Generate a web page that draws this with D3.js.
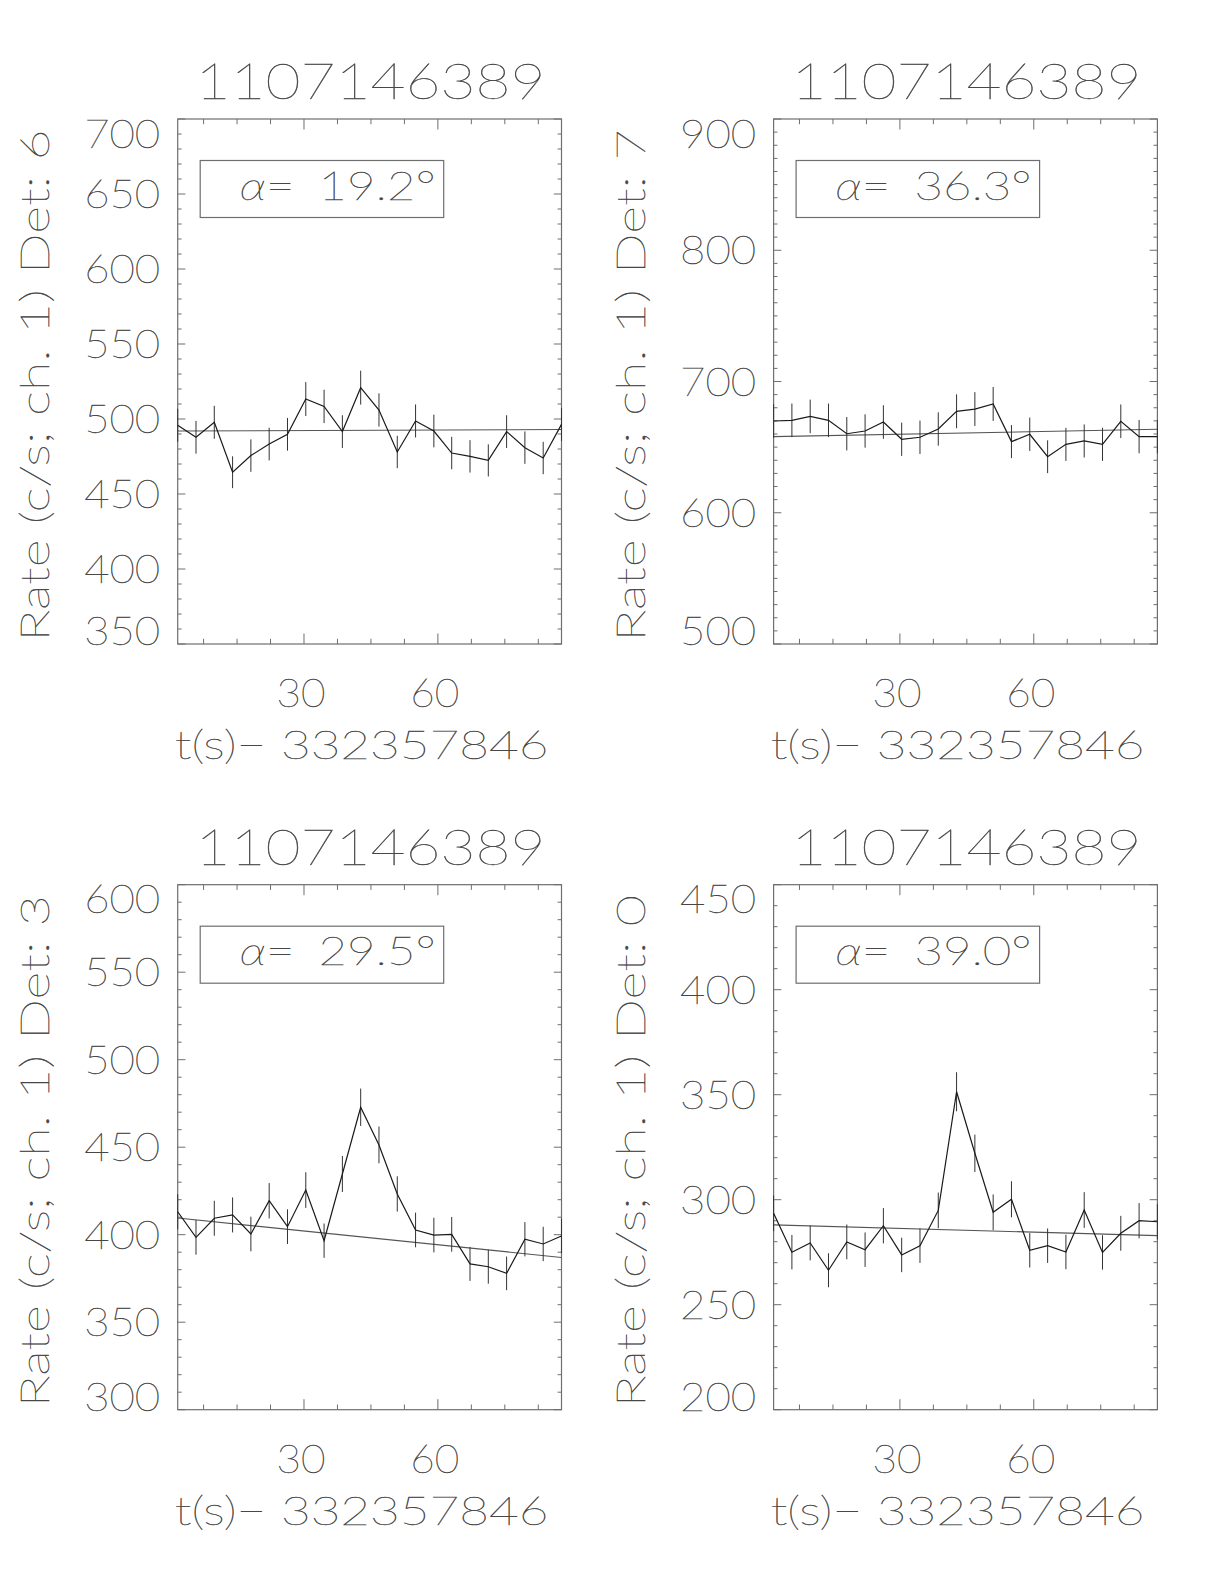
<!DOCTYPE html>
<html>
<head>
<meta charset="utf-8">
<script src="https://cdn.jsdelivr.net/npm/d3@7"></script>
<style>
  html, body { margin: 0; padding: 0; background: #fff; }
  svg text { font-family: Lato, 'Open Sans', sans-serif; font-weight: 200; fill: #474747; stroke: #474747; stroke-width: 0.4; }
</style>
</head>
<body>
<svg id="chart" width="1224" height="1584"></svg>
<script>
// ---------------- data ----------------
const burstId = "1107146389";
const xTitle = "t(s)\u2212 332357846";
const times = [1.7, 5.8, 9.9, 14.0, 18.1, 22.2, 26.3, 30.4, 34.5, 38.6, 42.7,
               46.8, 50.9, 55.0, 59.1, 63.1, 67.2, 71.3, 75.4, 79.5, 83.6, 87.7];
const xTickLabels = [30, 60];

const detectors = ["6", "7", "3", "0"];
const alphas = ["19.2", "36.3", "29.5", "39.0"];
const yDomains = [[350, 700], [500, 900], [300, 600], [200, 450]];
const yMajorSteps = [50, 100, 50, 50];

const rates6 = [495.8, 487.8, 497.8, 464.5, 475.6, 483.3, 489.8, 513.3, 508.4, 491.6, 520.9,
                506.0, 478.0, 498.7, 492.0, 477.3, 475.1, 472.4, 491.6, 480.9, 474.0, 496.4];
const errs6  = [11.0, 10.9, 11.0, 10.6, 10.8, 10.9, 10.9, 11.3, 11.1, 10.9, 11.3,
                11.1, 10.8, 11.0, 10.9, 10.8, 10.8, 10.7, 10.9, 10.8, 10.8, 11.0];
const fit6   = [492.0, 493.0];

const rates7 = [669.9, 670.4, 673.4, 670.4, 660.2, 662.3, 669.1, 656.0, 657.5, 663.8, 677.3,
                679.0, 682.9, 654.2, 659.8, 642.7, 652.1, 654.7, 652.1, 669.7, 658.0, 658.0];
const errs7  = [12.8, 12.8, 12.8, 12.8, 12.7, 12.7, 12.8, 12.7, 12.7, 12.7, 12.9,
                12.9, 12.9, 12.6, 12.7, 12.5, 12.6, 12.6, 12.6, 12.8, 12.7, 12.7];
const fit7   = [658.0, 663.6];

const rates3 = [413.1, 398.5, 409.4, 411.3, 400.4, 419.4, 404.6, 425.5, 396.6, 434.7, 472.8,
                451.3, 423.3, 402.7, 399.8, 400.2, 383.3, 381.7, 377.9, 397.4, 394.7, 399.3];
const errs3  = [10.0, 9.9, 10.0, 10.0, 9.9, 10.1, 9.9, 10.2, 9.8, 10.3, 10.7,
                10.5, 10.1, 9.9, 9.9, 9.9, 9.7, 9.7, 9.6, 9.8, 9.8, 9.9];
const fit3   = [409.5, 387.0];

const rates0 = [293.5, 275.0, 279.4, 266.4, 279.9, 276.2, 287.6, 273.7, 278.1, 294.9, 351.4,
                322.1, 294.0, 300.2, 275.9, 278.1, 275.1, 295.1, 274.9, 284.0, 290.0, 289.5];
const errs0  = [8.5, 8.2, 8.3, 8.1, 8.3, 8.2, 8.4, 8.2, 8.2, 8.5, 9.3,
                8.9, 8.5, 8.6, 8.2, 8.2, 8.2, 8.5, 8.2, 8.3, 8.4, 8.4];
const fit0   = [288.0, 282.9];

const ratesAll = [rates6, rates7, rates3, rates0];
const errsAll = [errs6, errs7, errs3, errs0];
const fitsAll = [fit6, fit7, fit3, fit0];

// ---------------- layout ----------------
const svg = d3.select("#chart");
const boxes = [
  {left: 177.7, top: 119},
  {left: 773.6, top: 119},
  {left: 177.7, top: 884.7},
  {left: 773.6, top: 884.7}
];
const W = 383.8, H = 525;
const axisColor = "#6e6e6e";

boxes.forEach((b, p) => {
  const g = svg.append("g").attr("transform", `translate(${b.left},${b.top})`);
  const x = d3.scaleLinear().domain([times[0], times[times.length - 1]]).range([0, W]);
  const y = d3.scaleLinear().domain(yDomains[p]).range([H, 0]);

  // frame
  g.append("rect").attr("x", 0).attr("y", 0).attr("width", W).attr("height", H)
    .attr("fill", "none").attr("stroke", axisColor).attr("stroke-width", 1.2);

  // x ticks (bottom + top)
  const xMinor = d3.range(7.5, x.domain()[1], 7.5).filter(v => v > x.domain()[0]);
  xMinor.forEach(v => {
    const major = Math.abs(v % 30) < 1e-6;
    const len = major ? 10.5 : 5.2;
    const px = x(v);
    g.append("line").attr("x1", px).attr("x2", px).attr("y1", H).attr("y2", H - len)
      .attr("stroke", axisColor).attr("stroke-width", 1);
    g.append("line").attr("x1", px).attr("x2", px).attr("y1", 0).attr("y2", len)
      .attr("stroke", axisColor).attr("stroke-width", 1);
  });

  // y ticks (left + right)
  const [y0, y1] = yDomains[p];
  const yMinor = d3.range(y0, y1 + 0.001, 10);
  yMinor.forEach(v => {
    const major = Math.abs((v - y0) % yMajorSteps[p]) < 1e-6;
    const len = major ? 7.7 : 3.9;
    const py = y(v);
    g.append("line").attr("x1", 0).attr("x2", len).attr("y1", py).attr("y2", py)
      .attr("stroke", axisColor).attr("stroke-width", 1);
    g.append("line").attr("x1", W).attr("x2", W - len).attr("y1", py).attr("y2", py)
      .attr("stroke", axisColor).attr("stroke-width", 1);
  });

  // y tick labels (clamped inside frame height)
  const yMajors = d3.range(y0, y1 + 0.001, yMajorSteps[p]);
  yMajors.forEach(v => {
    let base = y(v) + 14;
    base = Math.max(28.5, Math.min(H + 1, base));
    g.append("text").attr("x", -17.5).attr("y", base)
      .attr("text-anchor", "end").attr("font-size", 39)
      .attr("textLength", 76).attr("lengthAdjust", "spacingAndGlyphs")
      .text(String(v));
  });

  // x tick labels
  xTickLabels.forEach(v => {
    g.append("text").attr("x", x(v) - 3).attr("y", H + 63)
      .attr("text-anchor", "middle").attr("font-size", 39)
      .attr("textLength", 49).attr("lengthAdjust", "spacingAndGlyphs")
      .text(String(v));
  });

  // x title
  g.append("text").attr("x", W / 2 - 8).attr("y", H + 115)
    .attr("text-anchor", "middle").attr("font-size", 39)
    .attr("textLength", 374).attr("lengthAdjust", "spacingAndGlyphs")
    .text(xTitle);

  // panel title
  g.append("text").attr("x", W / 2 + 1).attr("y", -20)
    .attr("text-anchor", "middle").attr("font-size", 49)
    .attr("textLength", 350).attr("lengthAdjust", "spacingAndGlyphs")
    .text(burstId);

  // y title (rotated)
  g.append("text")
    .attr("transform", `translate(${-128.5},${H / 2 + 4}) rotate(-90)`)
    .attr("text-anchor", "middle").attr("font-size", 39)
    .attr("textLength", 512).attr("lengthAdjust", "spacingAndGlyphs")
    .text(`Rate (c/s; ch. 1) Det: ${detectors[p]}`);

  // alpha box
  g.append("rect").attr("x", 22.5).attr("y", 41.5).attr("width", 243.5).attr("height", 57)
    .attr("fill", "none").attr("stroke", axisColor).attr("stroke-width", 1.2);
  const at = g.append("text").attr("x", 62).attr("y", 80.5).attr("font-size", 39)
    .attr("textLength", 196).attr("lengthAdjust", "spacingAndGlyphs");
  at.append("tspan").attr("font-style", "italic").text("\u03b1");
  at.append("tspan").text("= ");
  at.append("tspan").attr("dx", 8).text(`${alphas[p]}\u00b0`);

  const rates = ratesAll[p], errs = errsAll[p], fit = fitsAll[p];

  // fit line (drawn from first to last time)
  const fitPts = [[times[0], fit[0]], [times[times.length - 1], fit[1]]];
  g.append("path").datum(fitPts)
    .attr("d", d3.line().x(d => x(d[0])).y(d => y(d[1])))
    .attr("fill", "none").attr("stroke", "#555").attr("stroke-width", 1.1);

  // error bars
  g.selectAll("line.err").data(rates).join("line").attr("class", "err")
    .attr("x1", (d, i) => x(times[i])).attr("x2", (d, i) => x(times[i]))
    .attr("y1", (d, i) => y(d - errs[i])).attr("y2", (d, i) => y(d + errs[i]))
    .attr("stroke", "#333").attr("stroke-width", 1);

  // data line
  g.append("path").datum(rates)
    .attr("d", d3.line().x((d, i) => x(times[i])).y(d => y(d)))
    .attr("fill", "none").attr("stroke", "#1a1a1a").attr("stroke-width", 1.2);
});
</script>
</body>
</html>
